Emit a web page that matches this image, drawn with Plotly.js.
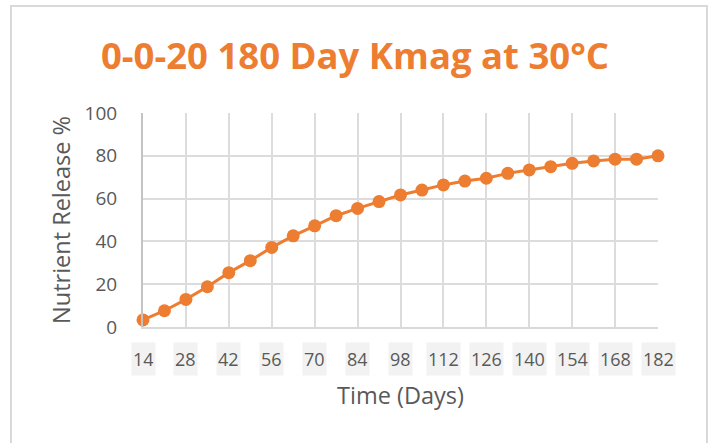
<!DOCTYPE html>
<html>
<head>
<meta charset="utf-8">
<script src="https://cdn.plot.ly/plotly-3.0.1.min.js"></script>
<style>
  html, body { margin: 0; padding: 0; background: #ffffff; }
  #wrap { position: relative; width: 710px; height: 443px; overflow: hidden; }
  #chart { position: absolute; left: 0; top: 0; width: 710px; height: 443px; }
  #frame { position: absolute; left: 10px; top: 5px; width: 694px; height: 450px;
           border: 2px solid #d9d9d9; pointer-events: none; }
</style>
</head>
<body>
<div id="wrap">
  <div id="chart"></div>
  <div id="frame"></div>
</div>
<script>
const chartTitle = "0-0-20 180 Day Kmag at 30°C";
const xTitle = "Time (Days)";
const yTitle = "Nutrient Release %";
const days = [14, 21, 28, 35, 42, 49, 56, 63, 70, 77, 84, 91, 98, 105, 112, 119, 126, 133, 140, 147, 154, 161, 168, 175, 182];
const release = [3.3, 7.6, 12.9, 18.8, 25.4, 31.0, 37.2, 42.6, 47.3, 52.0, 55.4, 58.6, 61.7, 64.0, 66.4, 68.2, 69.5, 71.8, 73.4, 74.9, 76.5, 77.6, 78.4, 78.4, 80.0];
const xTickVals = [14, 28, 42, 56, 70, 84, 98, 112, 126, 140, 154, 168, 182];
const xTickText = ["14", "28", "42", "56", "70", "84", "98", "112", "126", "140", "154", "168", "182"];

const orange = "#ED7D31";
const gray = "#595959";
const font = "'Open Sans', 'DejaVu Sans', sans-serif";

const trace = {
  x: days, y: release, type: "scatter", mode: "lines+markers",
  line: { color: orange, width: 3 },
  marker: { color: orange, size: 13 },
  cliponaxis: false, hoverinfo: "x+y"
};

const tickAnnotations = xTickVals.map((v, i) => ({
  x: v, y: 0, xref: "x", yref: "paper",
  yanchor: "top", yshift: -15,
  text: xTickText[i], showarrow: false,
  font: { family: font, size: 18, color: gray },
  bgcolor: "#f2f2f2", borderpad: 1, height: 30
}));

const layout = {
  width: 710, height: 443,
  margin: { l: 143, r: 52, t: 113, b: 116 },
  paper_bgcolor: "rgba(0,0,0,0)", plot_bgcolor: "#ffffff",
  showlegend: false,
  title: {
    text: "<b>" + chartTitle + "</b>",
    font: { family: font, size: 36.5, color: orange },
    x: 0.5, xref: "container", xanchor: "center",
    y: 55, yref: "container", yanchor: "middle"
  },
  xaxis: {
    range: [14, 182], tickmode: "array", tickvals: xTickVals, ticktext: xTickText,
    showticklabels: false, ticks: "",
    showgrid: true, gridcolor: "#dcdcdc", gridwidth: 2,
    zeroline: false, showline: true, linecolor: "#d9d9d9", linewidth: 2,
    title: { text: xTitle, font: { family: font, size: 23.5, color: gray }, standoff: 60 },
    automargin: false, fixedrange: true
  },
  yaxis: {
    range: [0, 100], tick0: 0, dtick: 20,
    tickfont: { family: font, size: 19, color: gray },
    ticks: "", ticklabelstandoff: 20,
    showgrid: true, gridcolor: "#dcdcdc", gridwidth: 2,
    zeroline: false, showline: true, linecolor: "#c4c4c4", linewidth: 2,
    title: { text: yTitle, font: { family: font, size: 23.5, color: gray }, standoff: 7 },
    automargin: false, fixedrange: true
  },
  annotations: tickAnnotations
};

Plotly.newPlot("chart", [trace], layout, { displayModeBar: false, staticPlot: true });
</script>
</body>
</html>
